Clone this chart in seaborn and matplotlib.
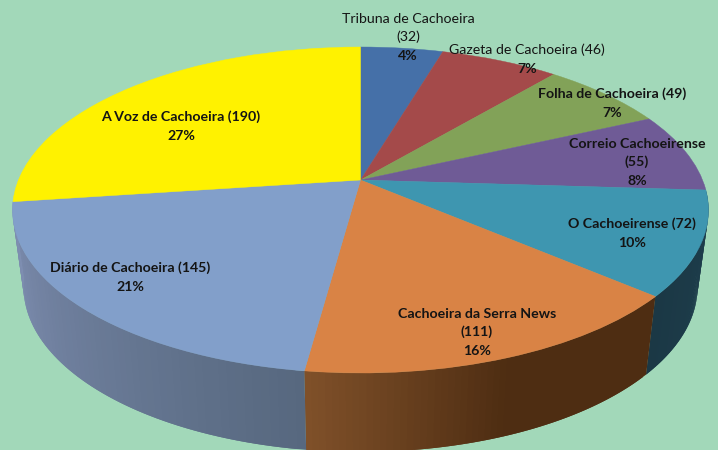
import numpy as np
import seaborn as sns
import matplotlib.pyplot as plt
from matplotlib.transforms import Transform

# Values
names = ['Tribuna de Cachoeira', 'Gazeta de Cachoeira', 'Folha de Cachoeira', 'Correio Cachoeirense',
         'O Cachoeirense', 'Cachoeira da Serra News', 'Diário de Cachoeira', 'A Voz de Cachoeira']
counts = [32, 46, 49, 55, 72, 111, 145, 190]
percents = [4, 7, 7, 8, 10, 16, 21, 27]

top_colors = ['#4570a8', '#a44a4a', '#82a258', '#6f5b96', '#3e96b0', '#d98345', '#829fca', '#fff200']

# Label layout: centre x, centre y of the block, line breaks, weight
label_pos = [(408, 36), (527, 58), (612, 102), (637, 161), (632, 232), (477, 331), (130, 276), (181, 125)]
label_break = [True, False, False, True, False, True, False, False]
label_weight = ['normal', 'normal', 'bold', 'bold', 'bold', 'bold', 'bold', 'bold']

bg = '#a2d8b9'
tilt = 0.184
line_h = 18.5


class Perspective(Transform):
    # Tilts the flat unit pie onto an ellipse in pixel space
    input_dims = 2
    output_dims = 2

    def __init__(self, cx, cy, rx, ry):
        super().__init__()
        self.cx, self.cy, self.rx, self.ry = cx, cy, rx, ry

    def transform_non_affine(self, values):
        values = np.asarray(values, dtype=float)
        u, v = values[:, 0], values[:, 1]
        d = 1 + tilt * v
        x = u * np.sqrt(1 - tilt ** 2) / d
        y = (v + tilt) / d
        return np.column_stack([self.cx + self.rx * x, self.cy - self.ry * y])


sns.set_theme(style='white')
plt.rcParams['font.family'] = ['Lato', 'DejaVu Sans']

fig = plt.figure(figsize=(7.18, 4.5), dpi=100, facecolor=bg)
ax = fig.add_axes([0, 0, 1, 1])
ax.set_facecolor(bg)

top = Perspective(360.5, 210, 348, 163)
bottom = Perspective(360.5, 287, 337, 165)

# Side wall: shaded strips under the three front slices, dark end first
wall_colors = {4: ['#1e3f4e', '#1b3845'],
               5: ['#4e2d12', '#4e2d12', '#7f5029'],
               6: ['#57687f', '#7f8fb2']}
edges = np.cumsum([0] + counts) / sum(counts) * 2 * np.pi
for i, stops in wall_colors.items():
    n = 60
    angles = np.linspace(edges[i], edges[i + 1], n + 1)
    shades = sns.blend_palette(stops, n)
    unit = np.column_stack([np.sin(angles), np.cos(angles)])
    upper = top.transform(unit)
    lower = bottom.transform(unit)
    for k in range(n):
        # each strip runs under the next one so no seams show
        j = min(k + 2, n)
        ax.fill([upper[k, 0], upper[j, 0], lower[j, 0], lower[k, 0]],
                [upper[k, 1], upper[j, 1], lower[j, 1], lower[k, 1]],
                color=shades[k], lw=0, zorder=1 + i / 10)

# Top face of the pie
wedges, _ = ax.pie(counts, colors=top_colors, startangle=90, counterclock=False,
                   wedgeprops={'linewidth': 0.3, 'zorder': 2})
ax.set_aspect('auto')
ax.set_xlim(0, 718)
ax.set_ylim(450, 0)
for w in wedges:
    w.set_edgecolor(w.get_facecolor())
    w.set_transform(top + ax.transData)
    w.set_clip_on(False)

# Labels
for name, c, p, pos, brk, wt in zip(names, counts, percents, label_pos, label_break, label_weight):
    rows = [name, f'({c})'] if brk else [f'{name} ({c})']
    y0 = pos[1] - len(rows) * line_h / 2
    for r, row in enumerate(rows):
        ax.text(pos[0], y0 + r * line_h + 5.3, row, ha='center', va='baseline', fontsize=10.2,
                fontweight=wt, color='#141414', zorder=5)
    ax.text(pos[0], y0 + len(rows) * line_h + 5.3, f'{p}%', ha='center', va='baseline', fontsize=10.2,
            fontweight='bold', color='#141414', zorder=5)

ax.axis('off')
fig.savefig('out.png', dpi=100, facecolor=bg)
